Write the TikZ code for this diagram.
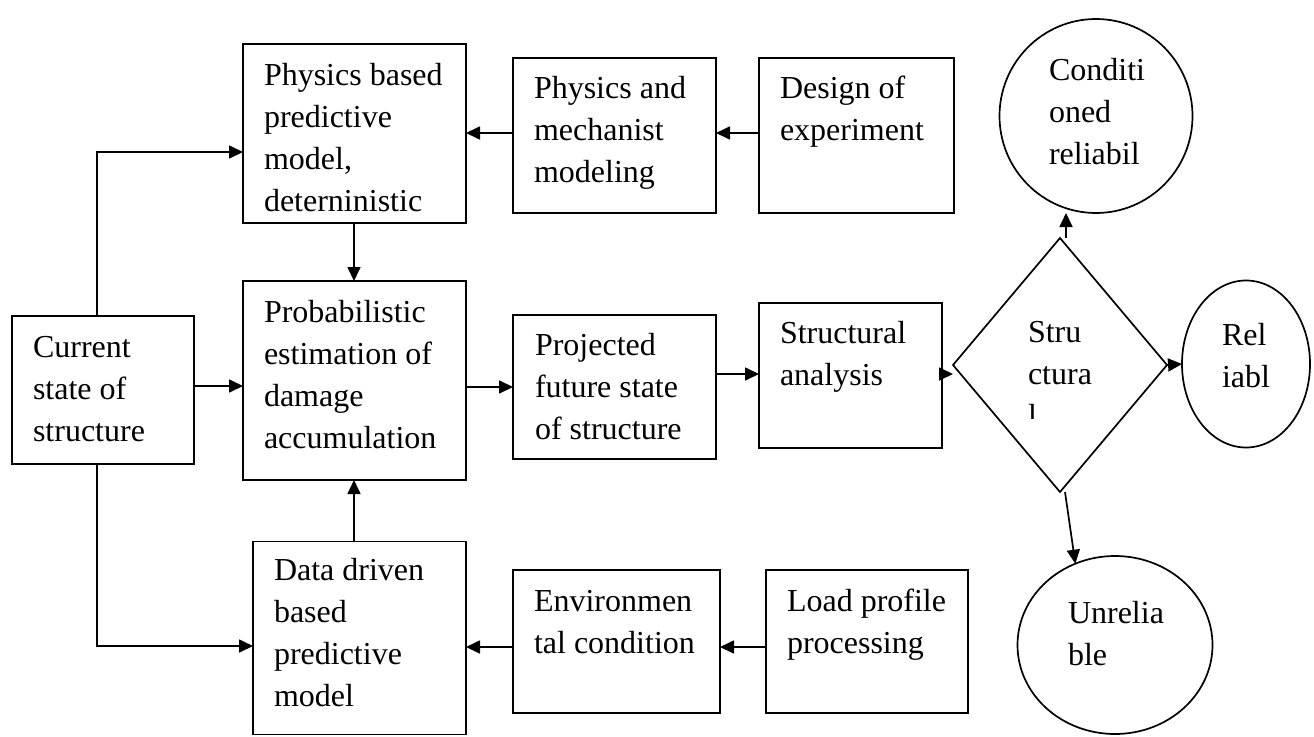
\documentclass[tikz,border=0pt]{standalone}
\usepackage{fontspec}
\setmainfont{Liberation Serif}
\usetikzlibrary{shapes.geometric,arrows.meta}
\tikzset{
  line/.style={line width=1.7pt, draw=black},
  arr/.style={line, -{Triangle[length=14pt,width=13pt]}},
  box/.style={rectangle, draw, line width=1.7pt, inner sep=0pt, outer sep=0pt},
  oval/.style={ellipse, draw, line width=1.7pt, inner sep=0pt, outer sep=0pt},
  txt/.style={anchor=base west, align=left, inner sep=0pt, outer sep=0pt,
    font=\fontsize{32}{42}\selectfont},
}
\begin{document}
\begin{tikzpicture}[x=1pt,y=-1pt]
\useasboundingbox (0,0) rectangle (1314,736);
% boxes
\node[box, minimum width=223pt, minimum height=179pt] (pb) at (354.5,133.5) {};
\node[box, minimum width=203pt, minimum height=155pt] (pm) at (614.5,135.5) {};
\node[box, minimum width=195pt, minimum height=155pt] (de) at (856.5,135.5) {};
\node[box, minimum width=182pt, minimum height=148pt] (cs) at (103,390) {};
\node[box, minimum width=223pt, minimum height=199pt] (pe) at (354.5,380.5) {};
\node[box, minimum width=203pt, minimum height=144pt] (pf) at (614.5,387) {};
\node[box, minimum width=183pt, minimum height=145pt] (sa) at (850.5,375.5) {};
\node[box, minimum width=213pt, minimum height=193pt] (dd) at (359.5,638) {};
\node[box, minimum width=207pt, minimum height=143pt] (ec) at (616.5,641.5) {};
\node[box, minimum width=202pt, minimum height=143pt] (lp) at (867,641.5) {};
\node[diamond, draw, line width=1.7pt, inner sep=0pt, outer sep=0pt,
      minimum width=214pt, minimum height=254pt] (dia) at (1060,365) {};
\node[oval, minimum width=193pt, minimum height=194pt] (cond) at (1096,116) {};
\node[oval, minimum width=128pt, minimum height=167pt] (rel) at (1246,364) {};
\node[oval, minimum width=195pt, minimum height=178pt] (unrel) at (1115,645) {};
% texts (anchor = baseline of the last line)
\node[txt] (pbt) at (264,211) {Physics based\\predictive\\model,\\deterninistic};
\node[txt] (pmt) at (534,182) {Physics and\\mechanist\\modeling};
\node[txt] (det) at (780,140) {Design of\\experiment};
\node[txt] (cst) at (33,441) {Current\\state of\\structure};
\node[txt] (pet) at (264,448) {Probabilistic\\estimation of\\damage\\accumulation};
\node[txt] (pft) at (535,439) {Projected\\future state\\of structure};
\node[txt] (sat) at (780,385) {Structural\\analysis};
\node[txt] (ddt) at (274,706) {Data driven\\based\\predictive\\model};
\node[txt] (ect) at (534,653) {Environmen\\tal condition};
\node[txt] (lpt) at (787,653) {Load profile\\processing};
\node[txt] (condt) at (1049,164) {Conditi\\oned\\reliabil};
\node[txt] (diat) at (1028,384) {Stru\\ctura};
\begin{scope}
  \clip (1000,395) rectangle (1100,418);
  \node[txt] (dial) at (1028,426) {l};
\end{scope}
\node[txt] (relt) at (1222,387) {Rel\\iabl};
\node[txt] (unrelt) at (1068,665) {Unrelia\\ble};
% connectors
\draw[arr] (cs.north -| 97,0) |- (pb.west |- 0,152);
\draw[arr] (cs.south -| 97,0) |- (dd.west |- 0,646);
\draw[arr] (cs.east |- 0,386) -- (pe.west |- 0,386);
\draw[arr] (pm.west |- 0,133) -- (pb.east |- 0,133);
\draw[arr] (de.west |- 0,133) -- (pm.east |- 0,133);
\draw[arr] (pb.south -| 354,0) -- (pe.north -| 354,0);
\draw[arr] (dd.north -| 354,0) -- (pe.south -| 354,0);
\draw[arr] (ec.west |- 0,647) -- (dd.east |- 0,647);
\draw[arr] (lp.west |- 0,647) -- (ec.east |- 0,647);
\draw[arr] (pe.east |- 0,387) -- (pf.west |- 0,387);
\draw[arr] (pf.east |- 0,374) -- (sa.west |- 0,374);
\draw[arr] (sa.east |- 0,374) -- (dia.west |- 0,374);
\draw[arr] (dia.north -| 1066,0) -- (cond.south -| 1066,0);
\draw[arr] (dia.east) -- (rel.west);
\draw[arr] ([xshift=5pt]dia.south) -- (unrel.116);
\end{tikzpicture}
\end{document}
